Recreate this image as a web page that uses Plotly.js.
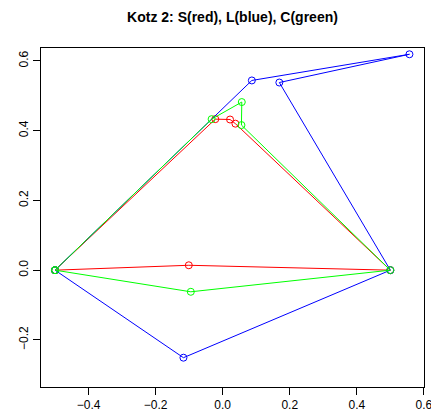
<!DOCTYPE html>
<html>
<head>
<meta charset="utf-8">
<script src="https://cdn.plot.ly/plotly-3.0.1.min.js"></script>
<style>html,body{margin:0;padding:0;background:#fff;}#chart{width:431px;height:419px;}</style>
</head>
<body>
<div id="chart"></div>
<script>
// S (red)
var sX = [-0.5, -0.022, 0.022, 0.038, 0.5, -0.101, -0.5];
var sY = [0.0, 0.433, 0.432, 0.420, 0.0, 0.014, 0.0];
// L (blue)
var lX = [-0.5, -0.117, 0.5, 0.169, 0.557, 0.087, -0.5];
var lY = [0.0, -0.251, 0.0, 0.538, 0.619, 0.544, 0.0];
// C (green)
var cX = [-0.5, -0.033, 0.057, 0.056, 0.5, -0.095, -0.5];
var cY = [0.0, 0.433, 0.482, 0.416, 0.0, -0.062, 0.0];

var xTicks = [-0.4, -0.2, 0.0, 0.2, 0.4, 0.6];
var yTicks = [-0.2, 0.0, 0.2, 0.4, 0.6];

function tr(x, y, col) {
  return {
    x: x, y: y, type: 'scatter', mode: 'lines+markers',
    line: {color: col, width: 1},
    marker: {symbol: 'circle-open', size: 7, color: col, line: {width: 1, color: col}},
    hoverinfo: 'none', showlegend: false, cliponaxis: false
  };
}

var data = [tr(sX, sY, '#FF0000'), tr(lX, lY, '#0000FF'), tr(cX, cY, '#00FF00')];

var axisBase = {
  showgrid: false, zeroline: false, showline: true, mirror: true,
  linecolor: '#000', linewidth: 1, ticks: 'outside', ticklen: 7, tickwidth: 1,
  tickcolor: '#000', tickformat: '.1f', tickmode: 'array', automargin: false,
  ticklabeloverflow: 'allow',
  tickfont: {family: 'Liberation Sans, Arial, sans-serif', size: 12, color: '#000'}
};

var layout = {
  width: 431, height: 419,
  margin: {l: 41, r: 7, t: 48, b: 32},
  paper_bgcolor: '#fff', plot_bgcolor: '#fff',
  title: {
    text: 'Kotz 2: S(red), L(blue), C(green)',
    font: {family: 'Liberation Sans, Arial, sans-serif', size: 14, color: '#000', weight: 'bold'},
    xref: 'paper', x: 0.5, xanchor: 'center',
    yref: 'container', y: 1 - 17 / 419, yanchor: 'middle'
  },
  xaxis: Object.assign({}, axisBase, {range: [-0.5418, 0.6004], tickvals: xTicks}),
  yaxis: Object.assign({}, axisBase, {range: [-0.335, 0.637], tickvals: yTicks, tickangle: -90})
};

Plotly.newPlot('chart', data, layout, {displayModeBar: false, staticPlot: true});
</script>
</body>
</html>
